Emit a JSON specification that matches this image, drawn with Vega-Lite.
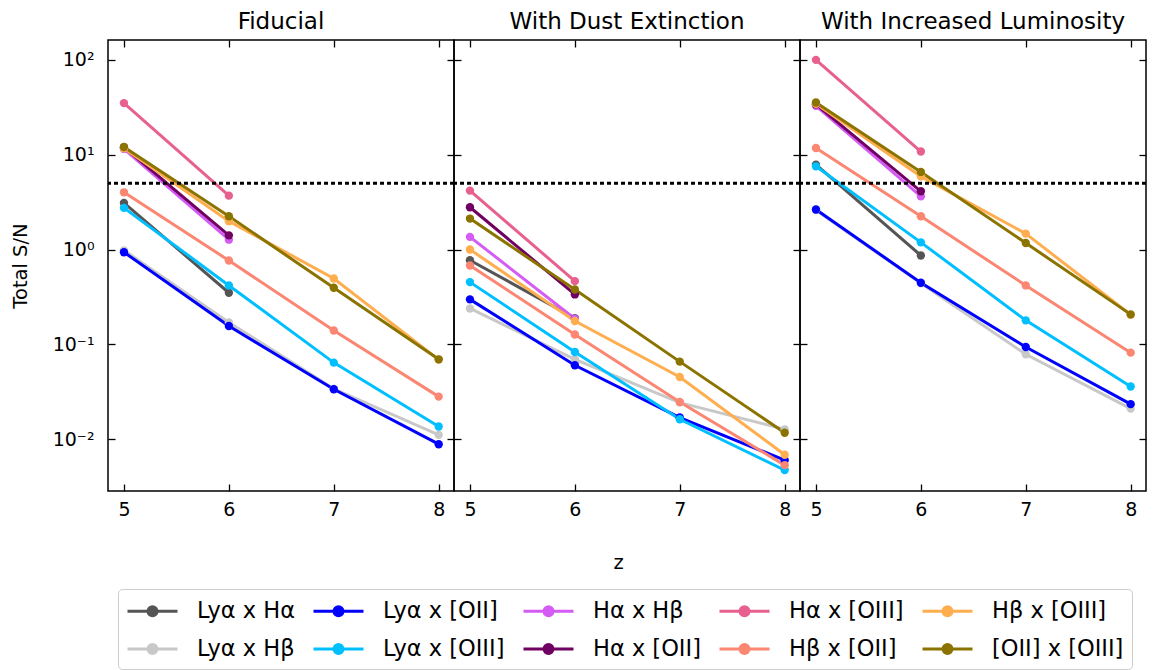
{
  "$schema": "https://vega.github.io/schema/vega-lite/v6.json",
  "padding": {"left": 9, "top": 10, "right": 5, "bottom": 0},
  "bounds": "flush",
  "datasets": {
    "sn": [
      {"p": "F", "pair": "Lyα x Hα", "z": 5, "sn": 3.1},
      {"p": "F", "pair": "Lyα x Hα", "z": 6, "sn": 0.35},
      {"p": "F", "pair": "Lyα x Hβ", "z": 5, "sn": 0.98},
      {"p": "F", "pair": "Lyα x Hβ", "z": 6, "sn": 0.17},
      {"p": "F", "pair": "Lyα x Hβ", "z": 7, "sn": 0.034},
      {"p": "F", "pair": "Lyα x Hβ", "z": 8, "sn": 0.0111},
      {"p": "F", "pair": "Lyα x [OII]", "z": 5, "sn": 0.937},
      {"p": "F", "pair": "Lyα x [OII]", "z": 6, "sn": 0.156},
      {"p": "F", "pair": "Lyα x [OII]", "z": 7, "sn": 0.0336},
      {"p": "F", "pair": "Lyα x [OII]", "z": 8, "sn": 0.00885},
      {"p": "F", "pair": "Lyα x [OIII]", "z": 5, "sn": 2.75},
      {"p": "F", "pair": "Lyα x [OIII]", "z": 6, "sn": 0.418},
      {"p": "F", "pair": "Lyα x [OIII]", "z": 7, "sn": 0.0642},
      {"p": "F", "pair": "Lyα x [OIII]", "z": 8, "sn": 0.0136},
      {"p": "F", "pair": "Hα x Hβ", "z": 5, "sn": 11.5},
      {"p": "F", "pair": "Hα x Hβ", "z": 6, "sn": 1.27},
      {"p": "F", "pair": "Hα x [OII]", "z": 5, "sn": 12.0},
      {"p": "F", "pair": "Hα x [OII]", "z": 6, "sn": 1.41},
      {"p": "F", "pair": "Hα x [OIII]", "z": 5, "sn": 35.0},
      {"p": "F", "pair": "Hα x [OIII]", "z": 6, "sn": 3.7},
      {"p": "F", "pair": "Hβ x [OII]", "z": 5, "sn": 4.01},
      {"p": "F", "pair": "Hβ x [OII]", "z": 6, "sn": 0.766},
      {"p": "F", "pair": "Hβ x [OII]", "z": 7, "sn": 0.14},
      {"p": "F", "pair": "Hβ x [OII]", "z": 8, "sn": 0.0281},
      {"p": "F", "pair": "Hβ x [OIII]", "z": 5, "sn": 11.7},
      {"p": "F", "pair": "Hβ x [OIII]", "z": 6, "sn": 1.99},
      {"p": "F", "pair": "Hβ x [OIII]", "z": 7, "sn": 0.495},
      {"p": "F", "pair": "Hβ x [OIII]", "z": 8, "sn": 0.069},
      {"p": "F", "pair": "[OII] x [OIII]", "z": 5, "sn": 12.05},
      {"p": "F", "pair": "[OII] x [OIII]", "z": 6, "sn": 2.24},
      {"p": "F", "pair": "[OII] x [OIII]", "z": 7, "sn": 0.395},
      {"p": "F", "pair": "[OII] x [OIII]", "z": 8, "sn": 0.0695},

      {"p": "D", "pair": "Lyα x Hα", "z": 5, "sn": 0.771},
      {"p": "D", "pair": "Lyα x Hα", "z": 6, "sn": 0.189},
      {"p": "D", "pair": "Lyα x Hβ", "z": 5, "sn": 0.239},
      {"p": "D", "pair": "Lyα x Hβ", "z": 6, "sn": 0.0695},
      {"p": "D", "pair": "Lyα x Hβ", "z": 7, "sn": 0.0243},
      {"p": "D", "pair": "Lyα x Hβ", "z": 8, "sn": 0.0127},
      {"p": "D", "pair": "Lyα x [OII]", "z": 5, "sn": 0.298},
      {"p": "D", "pair": "Lyα x [OII]", "z": 6, "sn": 0.0601},
      {"p": "D", "pair": "Lyα x [OII]", "z": 7, "sn": 0.0169},
      {"p": "D", "pair": "Lyα x [OII]", "z": 8, "sn": 0.006},
      {"p": "D", "pair": "Lyα x [OIII]", "z": 5, "sn": 0.453},
      {"p": "D", "pair": "Lyα x [OIII]", "z": 6, "sn": 0.083},
      {"p": "D", "pair": "Lyα x [OIII]", "z": 7, "sn": 0.0162},
      {"p": "D", "pair": "Lyα x [OIII]", "z": 8, "sn": 0.00472},
      {"p": "D", "pair": "Hα x Hβ", "z": 5, "sn": 1.36},
      {"p": "D", "pair": "Hα x Hβ", "z": 6, "sn": 0.186},
      {"p": "D", "pair": "Hα x [OII]", "z": 5, "sn": 2.79},
      {"p": "D", "pair": "Hα x [OII]", "z": 6, "sn": 0.336},
      {"p": "D", "pair": "Hα x [OIII]", "z": 5, "sn": 4.18},
      {"p": "D", "pair": "Hα x [OIII]", "z": 6, "sn": 0.464},
      {"p": "D", "pair": "Hβ x [OII]", "z": 5, "sn": 0.679},
      {"p": "D", "pair": "Hβ x [OII]", "z": 6, "sn": 0.127},
      {"p": "D", "pair": "Hβ x [OII]", "z": 7, "sn": 0.0247},
      {"p": "D", "pair": "Hβ x [OII]", "z": 8, "sn": 0.00532},
      {"p": "D", "pair": "Hβ x [OIII]", "z": 5, "sn": 1.0},
      {"p": "D", "pair": "Hβ x [OIII]", "z": 6, "sn": 0.176},
      {"p": "D", "pair": "Hβ x [OIII]", "z": 7, "sn": 0.0453},
      {"p": "D", "pair": "Hβ x [OIII]", "z": 8, "sn": 0.00684},
      {"p": "D", "pair": "[OII] x [OIII]", "z": 5, "sn": 2.12},
      {"p": "D", "pair": "[OII] x [OIII]", "z": 6, "sn": 0.379},
      {"p": "D", "pair": "[OII] x [OIII]", "z": 7, "sn": 0.0657},
      {"p": "D", "pair": "[OII] x [OIII]", "z": 8, "sn": 0.0117},

      {"p": "L", "pair": "Lyα x Hα", "z": 5, "sn": 7.85},
      {"p": "L", "pair": "Lyα x Hα", "z": 6, "sn": 0.865},
      {"p": "L", "pair": "Lyα x Hβ", "z": 5, "sn": 2.6},
      {"p": "L", "pair": "Lyα x Hβ", "z": 6, "sn": 0.44},
      {"p": "L", "pair": "Lyα x Hβ", "z": 7, "sn": 0.0785},
      {"p": "L", "pair": "Lyα x Hβ", "z": 8, "sn": 0.021},
      {"p": "L", "pair": "Lyα x [OII]", "z": 5, "sn": 2.64},
      {"p": "L", "pair": "Lyα x [OII]", "z": 6, "sn": 0.446},
      {"p": "L", "pair": "Lyα x [OII]", "z": 7, "sn": 0.0937},
      {"p": "L", "pair": "Lyα x [OII]", "z": 8, "sn": 0.0234},
      {"p": "L", "pair": "Lyα x [OIII]", "z": 5, "sn": 7.54},
      {"p": "L", "pair": "Lyα x [OIII]", "z": 6, "sn": 1.19},
      {"p": "L", "pair": "Lyα x [OIII]", "z": 7, "sn": 0.179},
      {"p": "L", "pair": "Lyα x [OIII]", "z": 8, "sn": 0.0359},
      {"p": "L", "pair": "Hα x Hβ", "z": 5, "sn": 32.8},
      {"p": "L", "pair": "Hα x Hβ", "z": 6, "sn": 3.64},
      {"p": "L", "pair": "Hα x [OII]", "z": 5, "sn": 34.0},
      {"p": "L", "pair": "Hα x [OII]", "z": 6, "sn": 4.11},
      {"p": "L", "pair": "Hα x [OIII]", "z": 5, "sn": 100},
      {"p": "L", "pair": "Hα x [OIII]", "z": 6, "sn": 10.8},
      {"p": "L", "pair": "Hβ x [OII]", "z": 5, "sn": 11.76},
      {"p": "L", "pair": "Hβ x [OII]", "z": 6, "sn": 2.24},
      {"p": "L", "pair": "Hβ x [OII]", "z": 7, "sn": 0.418},
      {"p": "L", "pair": "Hβ x [OII]", "z": 8, "sn": 0.0817},
      {"p": "L", "pair": "Hβ x [OIII]", "z": 5, "sn": 34.5},
      {"p": "L", "pair": "Hβ x [OIII]", "z": 6, "sn": 5.91},
      {"p": "L", "pair": "Hβ x [OIII]", "z": 7, "sn": 1.47},
      {"p": "L", "pair": "Hβ x [OIII]", "z": 8, "sn": 0.205},
      {"p": "L", "pair": "[OII] x [OIII]", "z": 5, "sn": 35.5},
      {"p": "L", "pair": "[OII] x [OIII]", "z": 6, "sn": 6.58},
      {"p": "L", "pair": "[OII] x [OIII]", "z": 7, "sn": 1.17},
      {"p": "L", "pair": "[OII] x [OIII]", "z": 8, "sn": 0.207}
    ],
    "thr": [{"t": 5}]
  },
  "config": {
    "font": "DejaVu Sans",
    "view": {"stroke": "black", "strokeWidth": 1.5},
    "axis": {
      "domain": false, "grid": false, "tickColor": "black", "tickWidth": 1.3,
      "tickSize": -7, "labelFontSize": 19, "labelColor": "black", "labelPadding": 21,
      "titleFontSize": 19.5, "titleColor": "black", "titleFontWeight": "normal"
    },
    "axisX": {"labelPadding": 16},
    "title": {"fontSize": 23, "fontWeight": "normal", "offset": 5, "color": "black"},
    "legend": {
      "title": null, "orient": "none", "legendX": 10, "legendY": 549, "direction": "horizontal", "columns": 5,
      "symbolType": "M-1,0L3,0M0.64,0A0.36,0.36,0,1,1,1.36,0A0.36,0.36,0,1,1,0.64,0Z",
      "symbolSize": 625, "symbolStrokeWidth": 3, "labelFontSize": 22.5, "labelOffset": 43, "labelLimit": 400,
      "rowPadding": 12, "columnPadding": 12, "padding": 8, "strokeColor": "#cccccc", "cornerRadius": 4,
      "labelColor": "black"
    }
  },
  "spacing": 0,
  "hconcat": [
    {
      "width": 346, "height": 451,
      "title": "Fiducial",
      "layer": [
        {
          "data": {"name": "sn"}, "transform": [{"filter": "datum.p === 'F'"}],
          "mark": {"type": "line", "strokeWidth": 3},
          "encoding": {
            "x": {"field": "z", "type": "quantitative", "scale": {"domain": [4.848, 8.146], "nice": false, "zero": false},
                  "axis": {"orient": "bottom", "values": [5, 6, 7, 8], "format": "d", "title": null}},
            "y": {"field": "sn", "type": "quantitative", "scale": {"type": "log", "domain": [0.00284, 162], "nice": false},
                  "axis": {"orient": "left", "values": [0.01, 0.1, 1, 10, 100], "title": "Total S/N", "titlePadding": 22,
                           "labelExpr": "datum.value >= 99 ? '10²' : datum.value >= 9 ? '10¹' : datum.value >= 0.9 ? '10⁰' : datum.value >= 0.09 ? '10⁻¹' : '10⁻²'"}},
            "color": {"field": "pair", "type": "nominal",
                      "legend": {"encode": {"symbols": {"update": {"fill": {"scale": "color", "field": "value"}, "stroke": {"scale": "color", "field": "value"}}}}},
                      "scale": {"domain": ["Lyα x Hα", "Lyα x [OII]", "Hα x Hβ", "Hα x [OIII]", "Hβ x [OIII]", "Lyα x Hβ", "Lyα x [OIII]", "Hα x [OII]", "Hβ x [OII]", "[OII] x [OIII]"],
                                "range": ["#555555", "#0000ff", "#d45cf5", "#e8608f", "#ffae4f", "#c8c8c8", "#00bfff", "#700062", "#fb8672", "#8b7300"]}}
          }
        },
        {
          "data": {"name": "sn"}, "transform": [{"filter": "datum.p === 'F'"}],
          "mark": {"type": "point", "filled": true, "size": 70, "opacity": 1},
          "encoding": {
            "x": {"field": "z", "type": "quantitative", "scale": {"domain": [4.848, 8.146], "nice": false, "zero": false},
                  "axis": {"orient": "top", "values": [5, 6, 7, 8], "labels": false, "title": null}},
            "y": {"field": "sn", "type": "quantitative", "scale": {"type": "log", "domain": [0.00284, 162], "nice": false},
                  "axis": {"orient": "right", "values": [0.01, 0.1, 1, 10, 100], "labels": false, "title": null}},
            "color": {"field": "pair", "type": "nominal",
                      "legend": {"encode": {"symbols": {"update": {"fill": {"scale": "color", "field": "value"}, "stroke": {"scale": "color", "field": "value"}}}}}}
          }
        },
        {
          "data": {"name": "thr"},
          "mark": {"type": "rule", "strokeDash": [4, 3], "strokeWidth": 3, "color": "black"},
          "encoding": {"y": {"field": "t", "type": "quantitative", "scale": {"type": "log", "domain": [0.00284, 162], "nice": false}, "axis": null}}
        }
      ],
      "resolve": {"axis": {"x": "independent", "y": "independent"}}
    },
    {
      "width": 346, "height": 451,
      "title": "With Dust Extinction",
      "layer": [
        {
          "data": {"name": "sn"}, "transform": [{"filter": "datum.p === 'D'"}],
          "mark": {"type": "line", "strokeWidth": 3},
          "encoding": {
            "x": {"field": "z", "type": "quantitative", "scale": {"domain": [4.848, 8.146], "nice": false, "zero": false},
                  "axis": {"orient": "bottom", "values": [5, 6, 7, 8], "format": "d", "title": "z", "titlePadding": 34, "titleX": 164}},
            "y": {"field": "sn", "type": "quantitative", "scale": {"type": "log", "domain": [0.00284, 162], "nice": false},
                  "axis": {"orient": "left", "values": [0.01, 0.1, 1, 10, 100], "labels": false, "title": null}},
            "color": {"field": "pair", "type": "nominal",
                      "legend": {"encode": {"symbols": {"update": {"fill": {"scale": "color", "field": "value"}, "stroke": {"scale": "color", "field": "value"}}}}}}
          }
        },
        {
          "data": {"name": "sn"}, "transform": [{"filter": "datum.p === 'D'"}],
          "mark": {"type": "point", "filled": true, "size": 70, "opacity": 1},
          "encoding": {
            "x": {"field": "z", "type": "quantitative", "scale": {"domain": [4.848, 8.146], "nice": false, "zero": false},
                  "axis": {"orient": "top", "values": [5, 6, 7, 8], "labels": false, "title": null}},
            "y": {"field": "sn", "type": "quantitative", "scale": {"type": "log", "domain": [0.00284, 162], "nice": false},
                  "axis": {"orient": "right", "values": [0.01, 0.1, 1, 10, 100], "labels": false, "title": null}},
            "color": {"field": "pair", "type": "nominal",
                      "legend": {"encode": {"symbols": {"update": {"fill": {"scale": "color", "field": "value"}, "stroke": {"scale": "color", "field": "value"}}}}}}
          }
        },
        {
          "data": {"name": "thr"},
          "mark": {"type": "rule", "strokeDash": [4, 3], "strokeWidth": 3, "color": "black"},
          "encoding": {"y": {"field": "t", "type": "quantitative", "scale": {"type": "log", "domain": [0.00284, 162], "nice": false}, "axis": null}}
        }
      ],
      "resolve": {"axis": {"x": "independent", "y": "independent"}}
    },
    {
      "width": 346, "height": 451,
      "title": "With Increased Luminosity",
      "layer": [
        {
          "data": {"name": "sn"}, "transform": [{"filter": "datum.p === 'L'"}],
          "mark": {"type": "line", "strokeWidth": 3},
          "encoding": {
            "x": {"field": "z", "type": "quantitative", "scale": {"domain": [4.848, 8.146], "nice": false, "zero": false},
                  "axis": {"orient": "bottom", "values": [5, 6, 7, 8], "format": "d", "title": null}},
            "y": {"field": "sn", "type": "quantitative", "scale": {"type": "log", "domain": [0.00284, 162], "nice": false},
                  "axis": {"orient": "left", "values": [0.01, 0.1, 1, 10, 100], "labels": false, "title": null}},
            "color": {"field": "pair", "type": "nominal",
                      "legend": {"encode": {"symbols": {"update": {"fill": {"scale": "color", "field": "value"}, "stroke": {"scale": "color", "field": "value"}}}}}}
          }
        },
        {
          "data": {"name": "sn"}, "transform": [{"filter": "datum.p === 'L'"}],
          "mark": {"type": "point", "filled": true, "size": 70, "opacity": 1},
          "encoding": {
            "x": {"field": "z", "type": "quantitative", "scale": {"domain": [4.848, 8.146], "nice": false, "zero": false},
                  "axis": {"orient": "top", "values": [5, 6, 7, 8], "labels": false, "title": null}},
            "y": {"field": "sn", "type": "quantitative", "scale": {"type": "log", "domain": [0.00284, 162], "nice": false},
                  "axis": {"orient": "right", "values": [0.01, 0.1, 1, 10, 100], "labels": false, "title": null}},
            "color": {"field": "pair", "type": "nominal",
                      "legend": {"encode": {"symbols": {"update": {"fill": {"scale": "color", "field": "value"}, "stroke": {"scale": "color", "field": "value"}}}}}}
          }
        },
        {
          "data": {"name": "thr"},
          "mark": {"type": "rule", "strokeDash": [4, 3], "strokeWidth": 3, "color": "black"},
          "encoding": {"y": {"field": "t", "type": "quantitative", "scale": {"type": "log", "domain": [0.00284, 162], "nice": false}, "axis": null}}
        }
      ],
      "resolve": {"axis": {"x": "independent", "y": "independent"}}
    }
  ]
}
